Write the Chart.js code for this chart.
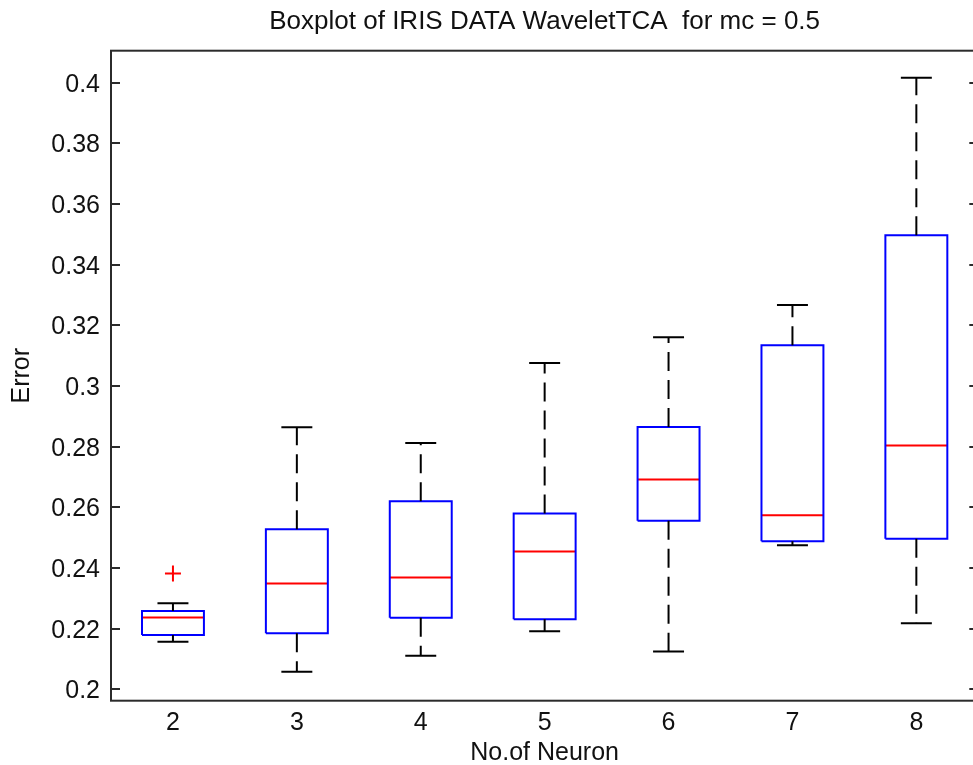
<!DOCTYPE html>
<html>
<head>
<meta charset="utf-8">
<script src="https://cdn.jsdelivr.net/npm/chart.js@4.4.1/dist/chart.umd.min.js"></script>
<style>
  html, body { margin: 0; padding: 0; background: #fff; overflow: hidden; }
  #wrap { width: 990px; height: 765px; }
</style>
</head>
<body>
<div id="wrap"><canvas id="c" width="990" height="765"></canvas></div>
<script>
// Error distributions per number of hidden neurons (IRIS, WaveletTCA, mc = 0.5)
const neurons      = ['2', '3', '4', '5', '6', '7', '8'];
const lowerWhisker = [0.2157, 0.2058, 0.2111, 0.2191, 0.2125, 0.2475, 0.2218];
const q1           = [0.2179, 0.2185, 0.2236, 0.2231, 0.2556, 0.2488, 0.2496];
const median       = [0.2237, 0.2349, 0.2369, 0.2454, 0.2692, 0.2574, 0.2804];
const q3           = [0.2258, 0.2528, 0.2620, 0.2580, 0.2865, 0.3134, 0.3497];
const upperWhisker = [0.2284, 0.2864, 0.2812, 0.3076, 0.3161, 0.3267, 0.4016];
const outlierGroup = ['2'];
const outlierValue = [0.2382];
const yTicks       = [0.2, 0.22, 0.24, 0.26, 0.28, 0.3, 0.32, 0.34, 0.36, 0.38, 0.4];

const FONT = '"Liberation Sans", Arial, Helvetica, sans-serif';
const BOX_HALF = 0.25;   // half box width in category units
const CAP_HALF = 0.125;  // half whisker-cap width

const gap = (x) => ({ x: x, y: null });
const boxPts = [], medPts = [], whiskPts = [], capPts = [];
neurons.forEach((n, i) => {
  const x = i + 1;
  boxPts.push({ x: x - BOX_HALF, y: q1[i] }, { x: x + BOX_HALF, y: q1[i] },
              { x: x + BOX_HALF, y: q3[i] }, { x: x - BOX_HALF, y: q3[i] },
              { x: x - BOX_HALF, y: q1[i] }, gap(x));
  medPts.push({ x: x - BOX_HALF, y: median[i] }, { x: x + BOX_HALF, y: median[i] }, gap(x));
  whiskPts.push({ x: x, y: q3[i] }, { x: x, y: upperWhisker[i] }, gap(x),
                { x: x, y: q1[i] }, { x: x, y: lowerWhisker[i] }, gap(x));
  capPts.push({ x: x - CAP_HALF, y: upperWhisker[i] }, { x: x + CAP_HALF, y: upperWhisker[i] }, gap(x),
              { x: x - CAP_HALF, y: lowerWhisker[i] }, { x: x + CAP_HALF, y: lowerWhisker[i] }, gap(x));
});
const outPts = outlierGroup.map((g, k) => ({ x: neurons.indexOf(g) + 1, y: outlierValue[k] }));

const lineSet = (data, color, width, dash) => ({
  type: 'scatter', data, showLine: true, spanGaps: false,
  borderColor: color, borderWidth: width, borderDash: dash || [],
  pointRadius: 0, pointHoverRadius: 0, fill: false, tension: 0,
  borderCapStyle: 'butt', borderJoinStyle: 'miter'
});

// Axes frame plus inward y tick marks on both sides
const framePlugin = {
  id: 'frame',
  afterDatasetsDraw(chart) {
    const { ctx, chartArea: a, scales: { y } } = chart;
    ctx.save();
    ctx.strokeStyle = '#2b2b2b';
    ctx.lineWidth = 2;
    ctx.strokeRect(a.left, a.top, a.right - a.left, a.bottom - a.top);
    ctx.beginPath();
    y.ticks.forEach(t => {
      const py = Math.round(y.getPixelForValue(t.value));
      ctx.moveTo(a.left, py); ctx.lineTo(a.left + 9, py);
      ctx.moveTo(a.right - 9, py); ctx.lineTo(a.right, py);
    });
    ctx.stroke();
    ctx.restore();
  }
};

new Chart(document.getElementById('c'), {
  type: 'scatter',
  data: {
    datasets: [
      lineSet(whiskPts, '#000000', 2, [19, 9]),
      lineSet(capPts, '#000000', 2),
      lineSet(boxPts, '#0000ff', 2),
      lineSet(medPts, '#ff0000', 2),
      {
        type: 'scatter', data: outPts, showLine: false,
        pointStyle: 'cross', pointRadius: 8, pointHoverRadius: 8,
        borderColor: '#ff0000', backgroundColor: '#ff0000', borderWidth: 2
      }
    ]
  },
  options: {
    responsive: false,
    animation: false,
    events: [],
    layout: { padding: { left: 0, right: 11.7, top: 0, bottom: 0 } },
    plugins: {
      legend: { display: false },
      tooltip: { enabled: false },
      title: {
        display: true,
        text: 'Boxplot of IRIS DATA WaveletTCA  for mc = 0.5',
        fullSize: false,
        color: '#111',
        font: { family: FONT, size: 26, weight: 'normal', lineHeight: 1 },
        padding: { top: 9, bottom: 15.7 }
      }
    },
    scales: {
      x: {
        type: 'linear', min: 0.5, max: 7.5,
        afterBuildTicks: (s) => { s.ticks = neurons.map((_, i) => ({ value: i + 1 })); },
        afterFit: (s) => { s.height = 64.3; },
        grid: { display: false, drawTicks: false },
        border: { display: false },
        ticks: {
          padding: 9.5, color: '#111',
          font: { family: FONT, size: 25, lineHeight: 1 },
          callback: (v, i) => neurons[i]
        },
        title: {
          display: true, text: 'No.of Neuron', color: '#111',
          font: { family: FONT, size: 25, lineHeight: 1 },
          padding: { top: 4, bottom: -0.5 }
        }
      },
      y: {
        type: 'linear', min: 0.19624, max: 0.41055,
        afterBuildTicks: (s) => { s.ticks = yTicks.map(v => ({ value: v })); },
        afterFit: (s) => { s.width = 111; },
        grid: { display: false, drawTicks: false },
        border: { display: false },
        ticks: {
          padding: 11, color: '#111', labelOffset: 2,
          font: { family: FONT, size: 25, lineHeight: 1 },
          callback: (v) => String(+v.toFixed(2))
        },
        title: {
          display: true, text: 'Error', color: '#111',
          font: { family: FONT, size: 25, lineHeight: 1 },
          padding: { top: 9.5, bottom: 0 }
        }
      }
    }
  },
  plugins: [framePlugin]
});
</script>
</body>
</html>
